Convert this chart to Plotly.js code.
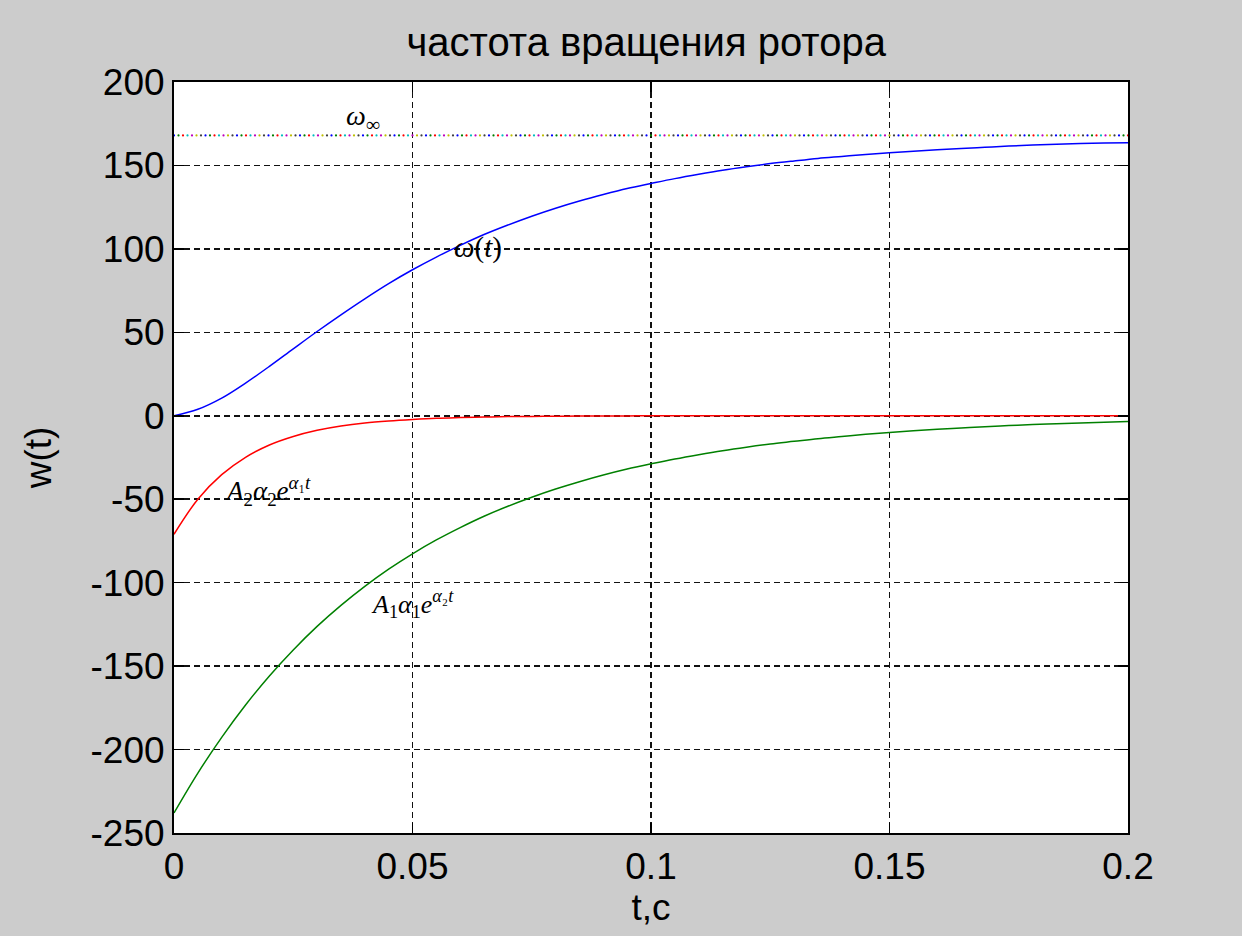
<!DOCTYPE html>
<html>
<head>
<meta charset="utf-8">
<script src="https://cdn.plot.ly/plotly-3.0.1.min.js"></script>
<style>html,body{margin:0;padding:0;background:#cccccc;}#chart{width:1242px;height:936px;}</style>
</head>
<body>
<div id="chart"></div>
<script>
// time samples (s)
const t = [0,0.005,0.01,0.015,0.02,0.025,0.03,0.035,0.04,0.045,0.05,0.055,0.06,0.065,0.07,0.075,0.08,0.085,0.09,0.095,0.1,0.105,0.11,0.115,0.12,0.125,0.13,0.135,0.14,0.145,0.15,0.155,0.16,0.165,0.17,0.175,0.18,0.185,0.19,0.195,0.2];
// omega(t) - rotor speed
const omega = [0,3.9,10.6,19.6,29.6,40.1,50.5,60.5,70.1,79.2,87.5,95.1,102.1,108.6,114.3,119.6,124.4,128.7,132.6,136.2,139.2,142.1,144.7,147.1,149.2,151.1,152.7,154.2,155.4,156.6,157.6,158.5,159.4,160.2,160.9,161.6,162.2,162.7,163.1,163.4,163.6];
// A2*alpha2*e^(alpha1 t)
const termRed = [-71.0,-50.0,-35.3,-24.9,-17.5,-12.4,-8.7,-6.1,-4.3,-3.1,-2.2,-1.5,-1.1,-0.8,-0.5,-0.4,-0.3,-0.2,-0.1,-0.1,0,0,0,0,0,0,0,0,0,0,0,0,0,0,0,0,0,0,0,0,0];
// A1*alpha1*e^(alpha2 t)
const termGreen = [-238.0,-214.1,-192.7,-173.3,-155.9,-140.3,-126.2,-113.6,-102.2,-91.9,-82.7,-74.4,-67.0,-60.2,-54.2,-48.8,-43.9,-39.5,-35.5,-31.9,-28.8,-25.9,-23.3,-20.9,-18.8,-16.9,-15.3,-13.7,-12.4,-11.1,-10.0,-9.0,-8.1,-7.3,-6.5,-5.9,-5.3,-4.8,-4.3,-3.9,-3.5];
// steady-state speed
const omegaInf = 168;
const dotColors = ['#0000ff','#008000','#ff0000','#00bfbf','#bf00bf','#bfbf00','#404040'];
const yTicks = [-250,-200,-150,-100,-50,0,50,100,150,200];
const yTickText = ['-250','-200','-150','-100','-50','0','50','100','150','200'];
const xTicks = [0,0.05,0.1,0.15,0.2];
const xTickText = ['0','0.05','0.1','0.15','0.2'];

// dotted multicolour steady-state line
const tInf = [], yInf = [], cInf = [];
const nDots = 212;
for (let i = 0; i <= nDots; i++) {
  tInf.push(0.2 * i / nDots);
  yInf.push(omegaInf);
  cInf.push(dotColors[i % dotColors.length]);
}

const traces = [
  {x: tInf, y: yInf, mode: 'markers', marker: {color: cInf, size: 2.2, line: {width: 0}}, hoverinfo: 'skip'},
  {x: t, y: omega, mode: 'lines', line: {color: '#0000ff', width: 1.5, shape: 'spline'}},
  {x: t, y: termRed, mode: 'lines', line: {color: '#ff0000', width: 1.5, shape: 'spline'}},
  {x: t, y: termGreen, mode: 'lines', line: {color: '#008000', width: 1.5, shape: 'spline'}}
];

const serifFam = 'Liberation Serif, Times New Roman, serif';
const gridStyle = {showgrid: true, gridcolor: '#111111', griddash: '6px,4px', gridwidth: 1.6};
const layout = {
  width: 1242, height: 936,
  paper_bgcolor: '#cccccc', plot_bgcolor: '#ffffff',
  showlegend: false,
  margin: {l: 174, r: 114, t: 82, b: 103},
  font: {family: 'Liberation Sans, Arial, sans-serif', color: '#000'},
  title: {text: 'частота вращения ротора', font: {size: 40, color: '#000'}, xref: 'paper', x: 0.495, xanchor: 'center', yref: 'container', y: 0.955, yanchor: 'middle'},
  xaxis: Object.assign({
    range: [0, 0.2], tickvals: xTicks, ticktext: xTickText,
    ticks: 'inside', ticklen: 10, tickcolor: '#000', tickwidth: 1.5,
    showline: true, linecolor: '#000', linewidth: 2, mirror: 'ticks',
    zeroline: false, tickfont: {size: 37},
    title: {text: 't,c', font: {size: 37}, standoff: 2}
  }, gridStyle),
  yaxis: Object.assign({
    range: [-250, 200], tickvals: yTicks, ticktext: yTickText,
    ticks: 'inside', ticklen: 10, tickcolor: '#000', tickwidth: 1.5,
    showline: true, linecolor: '#000', linewidth: 2, mirror: 'ticks',
    zeroline: false, tickfont: {size: 37},
    title: {text: 'w(t)', font: {size: 37}, standoff: 28}
  }, gridStyle),
  annotations: [
    {x: 0.0396, y: 179, text: '<i>ω</i><sub>∞</sub>', showarrow: false, font: {family: serifFam, size: 28, color: '#000'}},
    {x: 0.0637, y: 101, text: '<i>ω</i>(<i>t</i>)', showarrow: false, font: {family: serifFam, size: 29, color: '#000'}},
    {x: 0.0197, y: -45, text: '<i>A</i><sub>2</sub><i>α</i><sub>2</sub><i>e</i><sup><i>α</i>₁<i>t</i></sup>', showarrow: false, font: {family: serifFam, size: 27, color: '#000'}},
    {x: 0.0499, y: -113, text: '<i>A</i><sub>1</sub><i>α</i><sub>1</sub><i>e</i><sup><i>α</i>₂<i>t</i></sup>', showarrow: false, font: {family: serifFam, size: 26, color: '#000'}}
  ]
};

Plotly.newPlot('chart', traces, layout, {staticPlot: true, displayModeBar: false});
</script>
</body>
</html>
